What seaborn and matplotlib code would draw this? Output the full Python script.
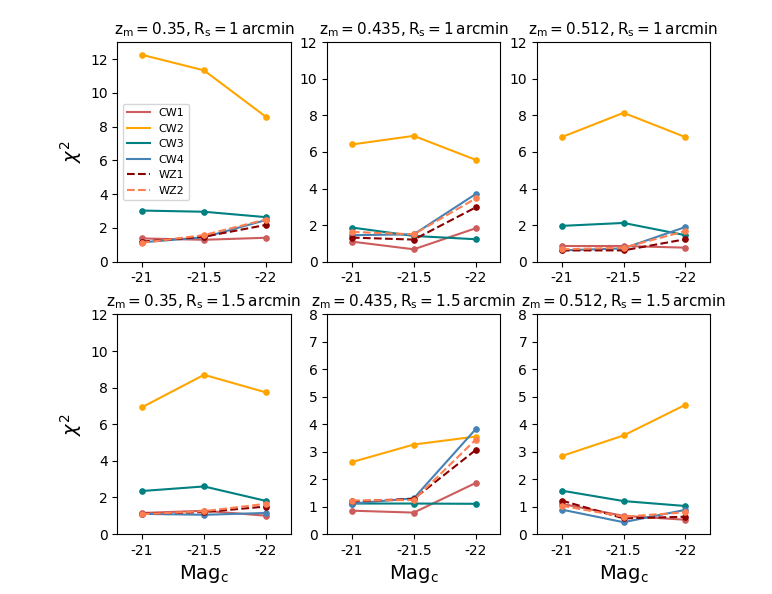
import matplotlib
matplotlib.use('Agg')
import matplotlib.pyplot as plt
import seaborn as sns
import pandas as pd

mags = ['-21', '-21.5', '-22']
z_vals = ['0.35', '0.435', '0.512']
r_vals = ['1', '1.5']

names = ['CW1', 'CW2', 'CW3', 'CW4', 'WZ1', 'WZ2']
colors = ['indianred', 'orange', 'teal', 'steelblue', 'darkred', 'coral']
styles = ['-', '-', '-', '-', '--', '--']

# chi2 values, one dict per panel (row = R_s, column = z_m)
chi2_r1_z035 = {'CW1': [1.38, 1.30, 1.42], 'CW2': [12.25, 11.33, 8.58],
                'CW3': [3.03, 2.96, 2.64], 'CW4': [1.15, 1.45, 2.47],
                'WZ1': [1.19, 1.48, 2.18], 'WZ2': [1.12, 1.58, 2.50]}
chi2_r1_z0435 = {'CW1': [1.10, 0.68, 1.83], 'CW2': [6.41, 6.88, 5.57],
                 'CW3': [1.87, 1.41, 1.23], 'CW4': [1.45, 1.50, 3.70],
                 'WZ1': [1.32, 1.21, 2.97], 'WZ2': [1.63, 1.50, 3.46]}
chi2_r1_z0512 = {'CW1': [0.86, 0.86, 0.77], 'CW2': [6.81, 8.14, 6.81],
                 'CW3': [1.96, 2.12, 1.45], 'CW4': [0.62, 0.73, 1.90],
                 'WZ1': [0.62, 0.62, 1.23], 'WZ2': [0.68, 0.77, 1.68]}
chi2_r15_z035 = {'CW1': [1.15, 1.27, 1.00], 'CW2': [6.93, 8.70, 7.74],
                 'CW3': [2.35, 2.60, 1.81], 'CW4': [1.10, 1.05, 1.15],
                 'WZ1': [1.10, 1.20, 1.50], 'WZ2': [1.08, 1.25, 1.65]}
chi2_r15_z0435 = {'CW1': [0.85, 0.78, 1.86], 'CW2': [2.62, 3.26, 3.55],
                  'CW3': [1.11, 1.11, 1.10], 'CW4': [1.11, 1.30, 3.82],
                  'WZ1': [1.19, 1.28, 3.06], 'WZ2': [1.22, 1.24, 3.44]}
chi2_r15_z0512 = {'CW1': [1.10, 0.66, 0.52], 'CW2': [2.84, 3.59, 4.71],
                  'CW3': [1.58, 1.20, 1.02], 'CW4': [0.89, 0.43, 0.88],
                  'WZ1': [1.22, 0.57, 0.63], 'WZ2': [1.03, 0.63, 0.79]}

panels = [[chi2_r1_z035, chi2_r1_z0435, chi2_r1_z0512],
          [chi2_r15_z035, chi2_r15_z0435, chi2_r15_z0512]]
ytop = [[13, 12, 12], [12, 8, 8]]
ystep = [[2, 2, 2], [2, 1, 1]]

fig, axs = plt.subplots(2, 3, figsize=(7.72, 5.94), dpi=100)
fig.subplots_adjust(left=0.152, right=0.92, top=0.929, bottom=0.101,
                    wspace=0.21, hspace=0.24)

for i in range(2):
    for j in range(3):
        ax = axs[i, j]
        d = panels[i][j]
        for n, c, ls in zip(names, colors, styles):
            df = pd.DataFrame({'Mag': mags, 'chi2': d[n]})
            sns.lineplot(data=df, x='Mag', y='chi2', ax=ax, color=c,
                         linestyle=ls, marker='o', markersize=4,
                         markeredgecolor=c, linewidth=1.5, label=n,
                         sort=False)
        ax.set_xlim(-0.4, 2.4)
        ax.set_ylim(0, ytop[i][j])
        ax.set_yticks(range(0, min(ytop[i][j], 12) + 1, ystep[i][j]))
        ax.set_title(r'$\rm z_m = %s, R_s = %s\,arcmin$' % (z_vals[j], r_vals[i]),
                     fontsize=11)
        ax.set_xlabel(r'$\rm Mag_c$' if i == 1 else '', fontsize=14)
        ax.set_ylabel(r'$\chi^2$' if j == 0 else '', fontsize=14)
        ax.tick_params(labelsize=10)
        if i == 0 and j == 0:
            leg = ax.legend(loc='center left', fontsize=8)
            for h in leg.get_lines():
                h.set_marker('')
        else:
            ax.get_legend().remove()

fig.savefig('out.png')
